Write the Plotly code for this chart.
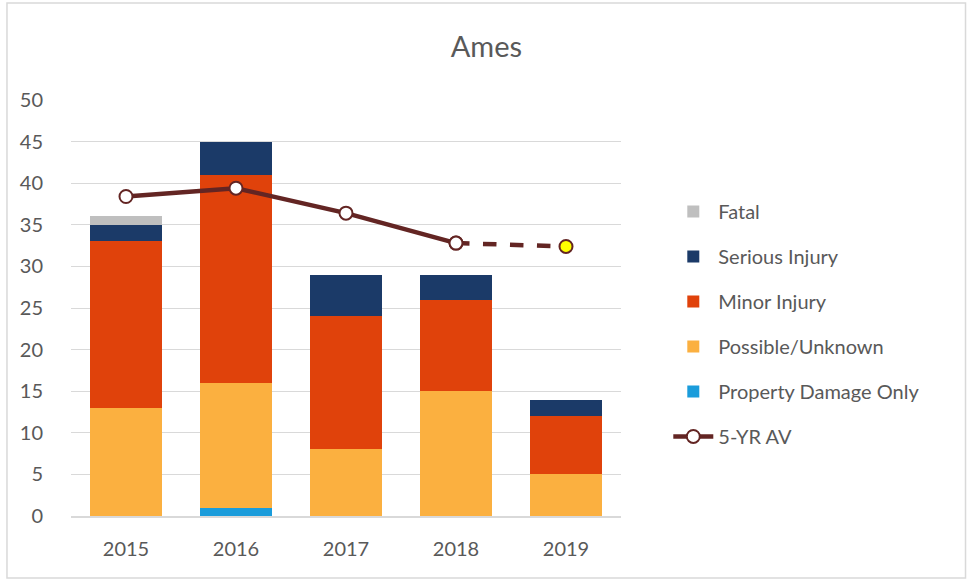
import plotly.graph_objects as go

years = ["2015", "2016", "2017", "2018", "2019"]
pdo = [0, 1, 0, 0, 0]
possible = [13, 15, 8, 15, 5]
minor = [20, 25, 16, 11, 7]
serious = [2, 4, 5, 3, 2]
fatal = [1, 0, 0, 0, 0]
avg5 = [38.4, 39.4, 36.4, 32.8, 32.4]

FONT = "Lato, Carlito, Calibri, sans-serif"
TXT = "#595959"
LINE = "#632523"

fig = go.Figure()
series = [
    ("Property Damage Only", pdo, "#1A9CDB", 5),
    ("Possible/Unknown", possible, "#FBB040", 4),
    ("Minor Injury", minor, "#E0420B", 3),
    ("Serious Injury", serious, "#1B3A68", 2),
    ("Fatal", fatal, "#BFBFBF", 1),
]
for name, vals, col, rank in series:
    fig.add_trace(go.Bar(
        x=years, y=vals, name=name, marker=dict(color=col, line=dict(width=0)),
        legendrank=rank, legendgroup=name,
    ))

fig.add_trace(go.Scatter(
    x=years[:4], y=avg5[:4], name="5-YR AV", mode="lines+markers",
    line=dict(color=LINE, width=4.5),
    marker=dict(size=13, color="white", line=dict(color=LINE, width=2)),
    legendrank=6, legendgroup="avg",
))
fig.add_trace(go.Scatter(
    x=years[3:], y=avg5[3:], name="5-YR AV proj", mode="lines+markers",
    line=dict(color=LINE, width=4.5, dash="dash"),
    marker=dict(size=13, color=["white", "#FFFF00"], line=dict(color=LINE, width=2)),
    showlegend=False,
))

fig.update_layout(
    width=967, height=583,
    barmode="stack", bargap=0.35,
    paper_bgcolor="white", plot_bgcolor="white",
    margin=dict(l=71, r=346, t=100, b=67),
    title=dict(text="Ames", x=0.503, xref="container", y=0.92,
               xanchor="center", yanchor="middle",
               font=dict(family=FONT, size=29, color=TXT)),
    font=dict(family=FONT, size=19, color=TXT),
    legend=dict(x=1.086, xanchor="left", y=0.779, yanchor="top",
                font=dict(family=FONT, size=20, color=TXT),
                tracegroupgap=16, itemwidth=40, bgcolor="rgba(0,0,0,0)"),
    yaxis=dict(range=[0, 50], dtick=5, showgrid=True, gridcolor="#D9D9D9", gridwidth=1.3,
               zeroline=False, showline=False, ticks="", ticklabelstandoff=27,
               tickfont=dict(family=FONT, size=20, color=TXT)),
    xaxis=dict(showline=True, linecolor="#D9D9D9", linewidth=1.5, ticks="",
               ticklabelstandoff=14,
               tickfont=dict(family=FONT, size=20, color=TXT)),
    shapes=[dict(type="rect", xref="paper", yref="paper", x0=-0.1164, x1=1.6264, y0=-0.149, y1=1.2332,
                 line=dict(color="#D9D9D9", width=1.5), fillcolor="rgba(0,0,0,0)", layer="below")],
)

fig.write_html("out.html", config={"displayModeBar": False},
               post_script="document.body.style.margin='0';document.body.style.padding='0';")
